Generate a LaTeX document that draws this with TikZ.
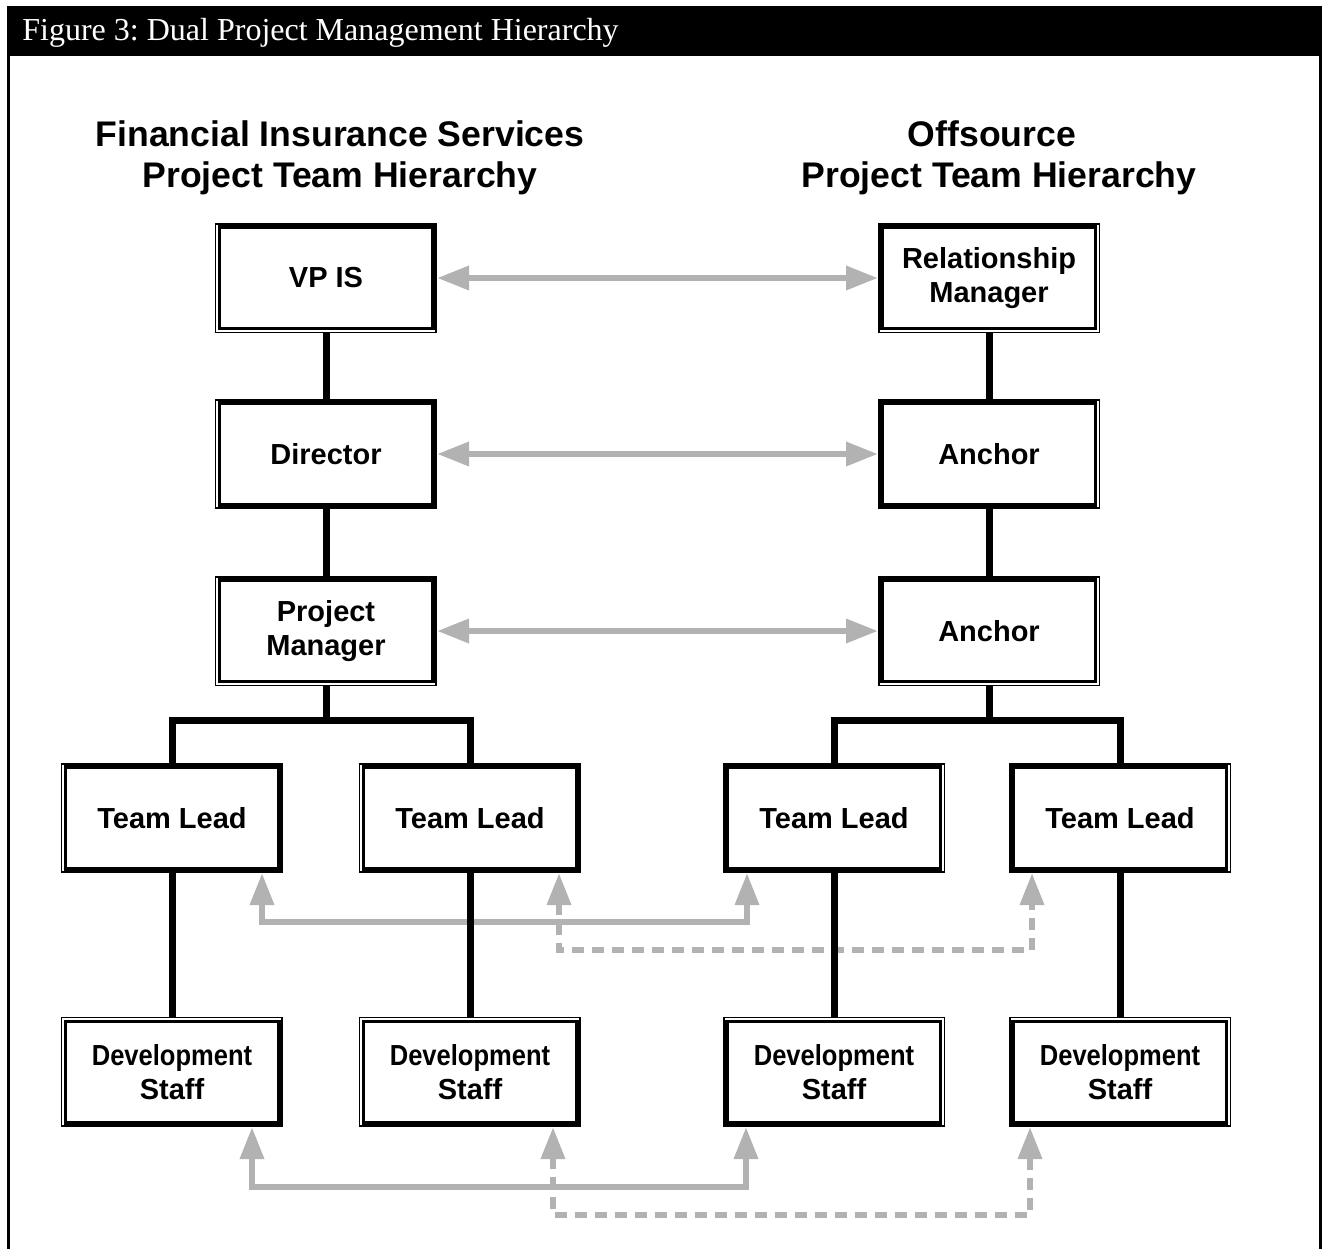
\documentclass[tikz,border=0pt]{standalone}
\usepackage{fontspec}
\setmainfont{Liberation Sans}
\newfontfamily\capfont{Liberation Serif}
\usetikzlibrary{arrows.meta}
\definecolor{arrowgray}{RGB}{178,178,178}
\frenchspacing
% thin white lines inside thick borders (double-line look)
\newcommand\dlLB[1]{\draw[white,line width=0.6pt] ([shift={(1pt,-1pt)}]#1.north west) -- ([shift={(1pt,1pt)}]#1.south west) -- ([shift={(-1pt,1pt)}]#1.south east);}
\newcommand\dlRB[1]{\draw[white,line width=0.6pt] ([shift={(-1pt,-1pt)}]#1.north east) -- ([shift={(-1pt,1pt)}]#1.south east) -- ([shift={(1pt,1pt)}]#1.south west);}
\newcommand\dlLT[1]{\draw[white,line width=0.6pt] ([shift={(1pt,1pt)}]#1.south west) -- ([shift={(1pt,-1pt)}]#1.north west) -- ([shift={(-1pt,-1pt)}]#1.north east);}
\newcommand\dlRT[1]{\draw[white,line width=0.6pt] ([shift={(-1pt,1pt)}]#1.south east) -- ([shift={(-1pt,-1pt)}]#1.north east) -- ([shift={(1pt,-1pt)}]#1.north west);}
\newcommand\dlL[1]{\draw[white,line width=0.6pt] ([shift={(1pt,-1pt)}]#1.north west) -- ([shift={(1pt,1pt)}]#1.south west);}
\newcommand\dlR[1]{\draw[white,line width=0.6pt] ([shift={(-1pt,-1pt)}]#1.north east) -- ([shift={(-1pt,1pt)}]#1.south east);}
\begin{document}
\begin{tikzpicture}[x=0.5pt,y=-0.5pt,
  box/.style={draw=black,line width=3pt,fill=white,minimum width=108pt,minimum height=52pt,
    inner sep=0pt,align=center,font=\fontsize{14.5}{17}\selectfont\bfseries},
  tie/.style={draw=black,line width=3.5pt},
  link/.style={draw=arrowgray,line width=3.2pt,
    {Triangle[length=16pt,width=11.5pt]}-{Triangle[length=16pt,width=11.5pt]}},
  dlink/.style={link,dash pattern=on 6pt off 4pt},
  head/.style={font=\fontsize{17.8}{21}\selectfont\bfseries,anchor=base,inner sep=0pt},
]
\useasboundingbox (0,0) rectangle (1322,1249);
\fill[white] (0,0) rectangle (1322,1249);
% frame and caption bar
\fill[black] (7,6) rectangle (1322,56);
\draw[black,line width=1.5pt] (8.5,56) -- (8.5,1249);
\draw[black,line width=1.3pt] (1320.5,56) -- (1320.5,1249);
\node[anchor=base west,inner sep=0pt,text=white,font=\capfont\fontsize{16}{19}\selectfont] (cap) at (22,40) {Figure 3: Dual Project Management Hierarchy};

% headings
\node[head] (hl1) at (340,146) {Financial Insurance Services};
\node[head] (hl2) at (340,187) {Project Team Hierarchy};
\node[head] (hr1) at (992,146) {Offsource};
\node[head] (hr2) at (999,187) {Project Team Hierarchy};

% boxes
\node[box] (vp)  at (326,278) {VP IS};
\node[box] (dir) at (326,454) {Director};
\node[box] (pm)  at (326,631) {Project\\Manager};
\node[box] (rm)  at (989,278) {Relationship\\Manager};
\node[box] (a1)  at (989,454) {Anchor};
\node[box] (a2)  at (989,631) {Anchor};
\node[box] (tl1) at (172,818) {Team Lead};
\node[box] (tl2) at (470,818) {Team Lead};
\node[box] (tl3) at (834,818) {Team Lead};
\node[box] (tl4) at (1120,818) {Team Lead};
\node[box] (ds1) at (172,1072) {\scalebox{0.88}[1]{Development}\\Staff};
\node[box] (ds2) at (470,1072) {\scalebox{0.88}[1]{Development}\\Staff};
\node[box] (ds3) at (834,1072) {\scalebox{0.88}[1]{Development}\\Staff};
\node[box] (ds4) at (1120,1072) {\scalebox{0.88}[1]{Development}\\Staff};

\dlLB{vp} \dlL{dir} \dlLB{pm}
\dlRB{rm} \dlR{a1} \dlRB{a2}
\dlL{tl1} \dlL{tl2} \dlR{tl3} \dlR{tl4}
\dlLT{ds1} \dlLT{ds2} \dlRT{ds3} \dlRT{ds4}

% grey cross-links
\draw[link] (vp) -- (rm);
\draw[link] (dir) -- (a1);
\draw[link] (pm) -- (a2);

\coordinate (c1) at (262,922);
\coordinate (c2) at (747,922);
\draw[link] (tl1.south -| c1) -- (c1) -- (c2) -- (tl3.south -| c2);
\coordinate (c3) at (559,950);
\coordinate (c4) at (1032,950);
\draw[dlink] (tl2.south -| c3) -- (c3) -- (c4) -- (tl4.south -| c4);

\coordinate (c5) at (252,1187);
\coordinate (c6) at (746,1187);
\draw[link] (ds1.south -| c5) -- (c5) -- (c6) -- (ds3.south -| c6);
\coordinate (c7) at (553,1215);
\coordinate (c8) at (1030,1215);
\draw[dlink] (ds2.south -| c7) -- (c7) -- (c8) -- (ds4.south -| c8);

% black hierarchy lines
\draw[tie] (vp) -- (dir);
\draw[tie] (dir) -- (pm);
\coordinate (jl) at (326,720);
\draw[tie] (pm) -- (jl);
\draw[tie] (tl1.north) -- (tl1.north |- jl) -- (tl2.north |- jl) -- (tl2.north);
\draw[tie] (rm) -- (a1);
\draw[tie] (a1) -- (a2);
\coordinate (jr) at (989,720);
\draw[tie] (a2) -- (jr);
\draw[tie] (tl3.north) -- (tl3.north |- jr) -- (tl4.north |- jr) -- (tl4.north);
\draw[tie] (tl1) -- (ds1);
\draw[tie] (tl2) -- (ds2);
\draw[tie] (tl3) -- (ds3);
\draw[tie] (tl4) -- (ds4);
\end{tikzpicture}
\end{document}
